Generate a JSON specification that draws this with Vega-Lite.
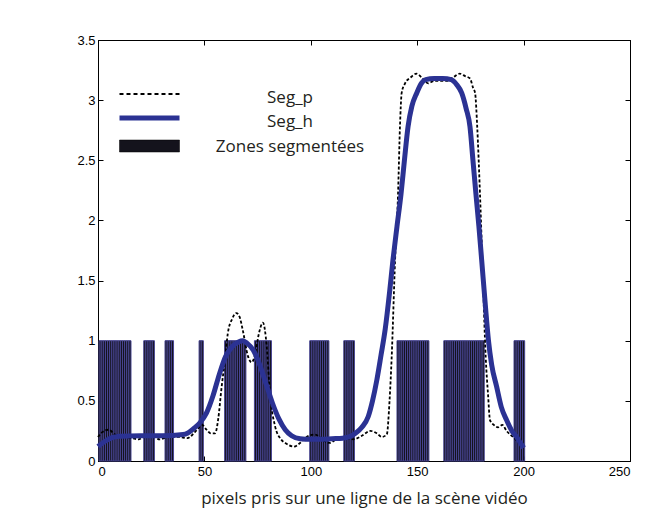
{
  "$schema": "https://vega.github.io/schema/vega-lite/v6.json",
  "width": 532,
  "height": 421,
  "autosize": "none",
  "padding": {"left": 98, "top": 40, "right": 15, "bottom": 54},
  "background": "white",
  "config": {
    "view": {"stroke": "black", "strokeWidth": 1},
    "axis": {
      "grid": false,
      "domainColor": "black",
      "tickColor": "black",
      "labelColor": "black",
      "labelFont": "Liberation Sans",
      "labelFontSize": 13,
      "tickSize": -5,
      "domainWidth": 1,
      "tickWidth": 1
    },
    "legend": {
      "orient": "none", "legendX": 18, "title": null, "padding": 0,
      "symbolSize": 100, "labelFont": "Open Sans", "labelFontSize": 17, "labelColor": "#231f20",
      "labelAlign": "center", "labelOffset": 157, "labelLimit": 300
    }
  },
  "datasets": {
    "zones": [
      {"x":1,"v":1},{"x":2,"v":1},{"x":3,"v":1},{"x":4,"v":1},{"x":5,"v":1},{"x":6,"v":1},{"x":7,"v":1},{"x":8,"v":1},{"x":9,"v":1},{"x":10,"v":1},{"x":11,"v":1},{"x":12,"v":1},{"x":13,"v":1},{"x":14,"v":1},{"x":15,"v":1},
      {"x":22,"v":1},{"x":23,"v":1},{"x":24,"v":1},{"x":25,"v":1},{"x":26,"v":1},
      {"x":32,"v":1},{"x":33,"v":1},{"x":34,"v":1},{"x":35,"v":1},
      {"x":48,"v":1},{"x":49,"v":1},
      {"x":60,"v":1},{"x":61,"v":1},{"x":62,"v":1},{"x":63,"v":1},{"x":64,"v":1},{"x":65,"v":1},{"x":66,"v":1},{"x":67,"v":1},{"x":68,"v":1},{"x":69,"v":1},
      {"x":74,"v":1},{"x":75,"v":1},{"x":76,"v":1},{"x":77,"v":1},{"x":78,"v":1},{"x":79,"v":1},{"x":80,"v":1},{"x":81,"v":1},
      {"x":100,"v":1},{"x":101,"v":1},{"x":102,"v":1},{"x":103,"v":1},{"x":104,"v":1},{"x":105,"v":1},{"x":106,"v":1},{"x":107,"v":1},{"x":108,"v":1},
      {"x":116,"v":1},{"x":117,"v":1},{"x":118,"v":1},{"x":119,"v":1},{"x":120,"v":1},
      {"x":141,"v":1},{"x":142,"v":1},{"x":143,"v":1},{"x":144,"v":1},{"x":145,"v":1},{"x":146,"v":1},{"x":147,"v":1},{"x":148,"v":1},{"x":149,"v":1},{"x":150,"v":1},{"x":151,"v":1},{"x":152,"v":1},{"x":153,"v":1},{"x":154,"v":1},{"x":155,"v":1},
      {"x":163,"v":1},{"x":164,"v":1},{"x":165,"v":1},{"x":166,"v":1},{"x":167,"v":1},{"x":168,"v":1},{"x":169,"v":1},{"x":170,"v":1},{"x":171,"v":1},{"x":172,"v":1},{"x":173,"v":1},{"x":174,"v":1},{"x":175,"v":1},{"x":176,"v":1},{"x":177,"v":1},{"x":178,"v":1},{"x":179,"v":1},{"x":180,"v":1},{"x":181,"v":1},
      {"x":196,"v":1},{"x":197,"v":1},{"x":198,"v":1},{"x":199,"v":1},{"x":200,"v":1}
    ],
    "segp": [
      {"x":0,"y":0.2},{"x":2,"y":0.24},{"x":5,"y":0.26},{"x":8,"y":0.22},{"x":12,"y":0.2},{"x":16,"y":0.19},{"x":19,"y":0.18},{"x":22,"y":0.2},{"x":26,"y":0.2},{"x":29,"y":0.18},{"x":33,"y":0.2},{"x":38,"y":0.2},{"x":42,"y":0.19},{"x":45,"y":0.23},{"x":47,"y":0.27},{"x":49,"y":0.3},{"x":51,"y":0.26},{"x":53,"y":0.23},{"x":55,"y":0.23},{"x":56.5,"y":0.35},{"x":58,"y":0.6},{"x":59.7,"y":0.85},{"x":61,"y":1.06},{"x":63,"y":1.18},{"x":65,"y":1.23},{"x":66.5,"y":1.2},{"x":68,"y":1.09},{"x":70.5,"y":0.87},{"x":72.2,"y":0.82},{"x":74,"y":0.9},{"x":75.5,"y":1.05},{"x":77.5,"y":1.15},{"x":79.3,"y":0.95},{"x":80.8,"y":0.56},{"x":83.2,"y":0.29},{"x":86,"y":0.18},{"x":88,"y":0.15},{"x":92,"y":0.12},{"x":95,"y":0.15},{"x":98,"y":0.2},{"x":102,"y":0.22},{"x":106,"y":0.17},{"x":109,"y":0.15},{"x":112,"y":0.18},{"x":116,"y":0.19},{"x":120,"y":0.18},{"x":124,"y":0.21},{"x":128,"y":0.25},{"x":131,"y":0.23},{"x":133.3,"y":0.2},{"x":135.7,"y":0.22},{"x":137,"y":0.5},{"x":138,"y":0.86},{"x":139.6,"y":1.67},{"x":141,"y":2.22},{"x":141.9,"y":2.78},{"x":142.7,"y":3.06},{"x":144.3,"y":3.14},{"x":147,"y":3.19},{"x":149.7,"y":3.22},{"x":152,"y":3.19},{"x":155.2,"y":3.14},{"x":158,"y":3.16},{"x":163.8,"y":3.16},{"x":167,"y":3.19},{"x":170,"y":3.22},{"x":172.5,"y":3.2},{"x":174.8,"y":3.18},{"x":176.3,"y":3.1},{"x":177.2,"y":3.06},{"x":178.2,"y":2.78},{"x":179.5,"y":2.22},{"x":180.6,"y":1.67},{"x":182.2,"y":0.86},{"x":183.3,"y":0.55},{"x":184.2,"y":0.34},{"x":186,"y":0.3},{"x":188,"y":0.28},{"x":190,"y":0.3},{"x":192,"y":0.25},{"x":195,"y":0.2},{"x":198,"y":0.15},{"x":200,"y":0.12}
    ],
    "segh": [
      {"x":0,"y":0.12},{"x":3,"y":0.16},{"x":6,"y":0.19},{"x":10,"y":0.205},{"x":20,"y":0.21},{"x":30,"y":0.21},{"x":40,"y":0.22},{"x":42,"y":0.23},{"x":45,"y":0.27},{"x":48,"y":0.32},{"x":51,"y":0.4},{"x":54,"y":0.54},{"x":57,"y":0.72},{"x":60,"y":0.87},{"x":63,"y":0.95},{"x":66,"y":0.99},{"x":68,"y":1.0},{"x":70,"y":0.98},{"x":73,"y":0.92},{"x":76,"y":0.8},{"x":79,"y":0.64},{"x":82,"y":0.48},{"x":85,"y":0.35},{"x":88,"y":0.26},{"x":91,"y":0.21},{"x":95,"y":0.185},{"x":100,"y":0.18},{"x":105,"y":0.18},{"x":110,"y":0.185},{"x":115,"y":0.19},{"x":118,"y":0.2},{"x":121,"y":0.23},{"x":124,"y":0.28},{"x":127,"y":0.37},{"x":129,"y":0.5},{"x":131,"y":0.67},{"x":133,"y":0.88},{"x":135,"y":1.1},{"x":137,"y":1.4},{"x":138.6,"y":1.67},{"x":140.5,"y":1.95},{"x":142.4,"y":2.22},{"x":144,"y":2.5},{"x":145.7,"y":2.78},{"x":147.5,"y":2.95},{"x":149.8,"y":3.06},{"x":152,"y":3.14},{"x":154,"y":3.17},{"x":158,"y":3.18},{"x":162,"y":3.18},{"x":166,"y":3.17},{"x":168.5,"y":3.13},{"x":170.9,"y":3.06},{"x":173,"y":2.93},{"x":174.8,"y":2.78},{"x":176.2,"y":2.5},{"x":177.6,"y":2.22},{"x":179,"y":1.95},{"x":180.3,"y":1.67},{"x":182,"y":1.3},{"x":183.5,"y":1.0},{"x":185,"y":0.8},{"x":187.3,"y":0.62},{"x":189.5,"y":0.45},{"x":192,"y":0.34},{"x":194.5,"y":0.25},{"x":196.7,"y":0.2},{"x":198.5,"y":0.15},{"x":200,"y":0.11}
    ]
  },
  "resolve": {"axis": {"x": "independent", "y": "independent"}},
  "layer": [
    {
      "data": {"name": "zones"},
      "mark": {"type": "bar", "size": 2.13, "stroke": "#474493", "strokeWidth": 1},
      "encoding": {
        "x": {"field": "x", "type": "quantitative", "scale": {"domain": [0, 250], "nice": false, "padding": 0},
          "axis": {"orient": "bottom", "values": [0, 50, 100, 150, 200, 250], "labelPadding": 9,
            "title": "pixels pris sur une ligne de la scène vidéo", "titleFont": "Open Sans", "titleFontSize": 17,
            "titleFontWeight": "normal", "titleColor": "#231f20", "titlePadding": 12}},
        "y": {"field": "v", "type": "quantitative", "scale": {"domain": [0, 3.5], "nice": false, "padding": 0},
          "axis": {"orient": "left", "values": [0, 0.5, 1, 1.5, 2, 2.5, 3, 3.5], "format": "~g", "title": null, "labelPadding": 8}},
        "fill": {"datum": "Zones segmentées", "type": "nominal",
          "scale": {"range": ["#14131c"]},
          "legend": {"legendY": 98.5, "symbolType": "M-1,-1.4H11V1H-1Z", "symbolStrokeColor": "#000000", "symbolStrokeWidth": 0.5}}
      }
    },
    {
      "data": {"name": "segp"},
      "mark": {"type": "line", "interpolate": "monotone", "strokeDash": [3, 2], "strokeWidth": 1.8},
      "encoding": {
        "x": {"field": "x", "type": "quantitative", "axis": null},
        "y": {"field": "y", "type": "quantitative", "axis": null},
        "stroke": {"datum": "Seg_p", "type": "nominal",
          "scale": {"range": ["#000000"]},
          "legend": {"legendY": 49.5, "symbolType": "M-1,-0.8H11", "symbolDash": [4, 3], "symbolStrokeWidth": 2}}
      }
    },
    {
      "data": {"name": "segh"},
      "mark": {"type": "line", "interpolate": "monotone", "strokeWidth": 5},
      "encoding": {
        "x": {"field": "x", "type": "quantitative",
          "axis": {"orient": "top", "values": [0, 50, 100, 150, 200, 250], "labels": false, "title": null}},
        "y": {"field": "y", "type": "quantitative",
          "axis": {"orient": "right", "values": [0, 0.5, 1, 1.5, 2, 2.5, 3, 3.5], "labels": false, "title": null}},
        "color": {"datum": "Seg_h", "type": "nominal",
          "scale": {"range": ["#2b3293"]},
          "legend": {"legendY": 73.5, "symbolType": "M-1,-0.8H11", "symbolStrokeWidth": 5}}
      }
    }
  ]
}
